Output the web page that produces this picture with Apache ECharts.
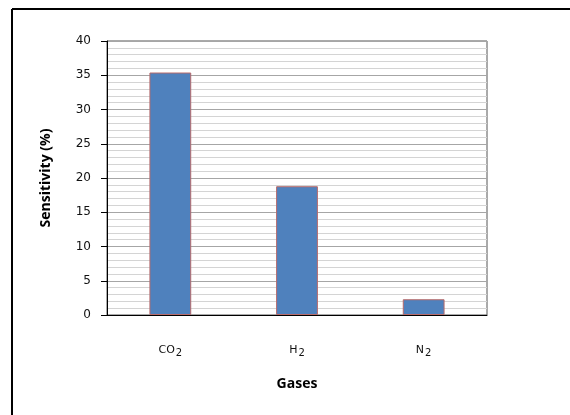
<!DOCTYPE html>
<html>
<head>
<meta charset="utf-8">
<script src="https://cdn.jsdelivr.net/npm/echarts@6/dist/echarts.min.js"></script>
<style>html,body{margin:0;padding:0;background:#fff}#c{width:570px;height:415px}</style>
</head>
<body>
<div id="c"></div>
<script>
var categories = ['CO2', 'H2', 'N2'];
var sensitivity = [35.4, 18.8, 2.3];
var yTicks = [0, 5, 10, 15, 20, 25, 30, 35, 40];

var chart = echarts.init(document.getElementById('c'), null, {renderer: 'canvas'});
chart.setOption({
  animation: false,
  backgroundColor: '#fff',
  graphic: [
    {type: 'line', shape: {x1: 12, y1: 9, x2: 570, y2: 9}, style: {stroke: '#000', lineWidth: 2}},
    {type: 'line', shape: {x1: 12, y1: 9, x2: 12, y2: 415}, style: {stroke: '#000', lineWidth: 2}}
  ],
  grid: {left: 107, right: 83, top: 41, bottom: 100, show: true, borderColor: '#555', borderWidth: 1, backgroundColor: '#fff'},
  xAxis: {
    type: 'category',
    data: categories,
    name: 'Gases',
    nameLocation: 'middle',
    nameGap: 62,
    nameTextStyle: {fontFamily: 'Open Sans', fontWeight: 'bold', fontSize: 14, color: '#000'},
    axisLine: {lineStyle: {color: '#000', width: 1}},
    axisTick: {show: false},
    axisLabel: {
      margin: 27,
      formatter: function (v) { return v.replace(/^([A-Za-z]+)(\d+)$/, '{n|$1}{s|$2}'); },
      rich: {
        n: {fontFamily: 'DejaVu Sans', fontSize: 11, color: '#111'},
        s: {fontFamily: 'DejaVu Sans', fontSize: 10, color: '#111', padding: [6, 0, 0, 1]}
      }
    }
  },
  yAxis: {
    type: 'value',
    min: yTicks[0],
    max: yTicks[yTicks.length - 1],
    interval: yTicks[1] - yTicks[0],
    name: 'Sensitivity (%)',
    nameLocation: 'middle',
    nameGap: 54,
    nameTextStyle: {fontFamily: 'Open Sans', fontWeight: 'bold', fontSize: 14, color: '#000'},
    axisLine: {show: true, lineStyle: {color: '#000', width: 1}},
    axisTick: {show: true, length: 6, lineStyle: {color: '#000'}},
    axisLabel: {margin: 16, fontFamily: 'DejaVu Sans', fontSize: 12, color: '#111'},
    splitLine: {show: true, lineStyle: {color: '#a6a6a6', width: 1}},
    minorTick: {show: false, splitNumber: 5},
    minorSplitLine: {show: true, lineStyle: {color: '#d4d4d4', width: 1}}
  },
  series: [{
    type: 'bar',
    data: sensitivity,
    barWidth: '33%',
    itemStyle: {color: '#4F81BD', borderColor: '#B86A6A', borderWidth: 1}
  }]
});
</script>
</body>
</html>
